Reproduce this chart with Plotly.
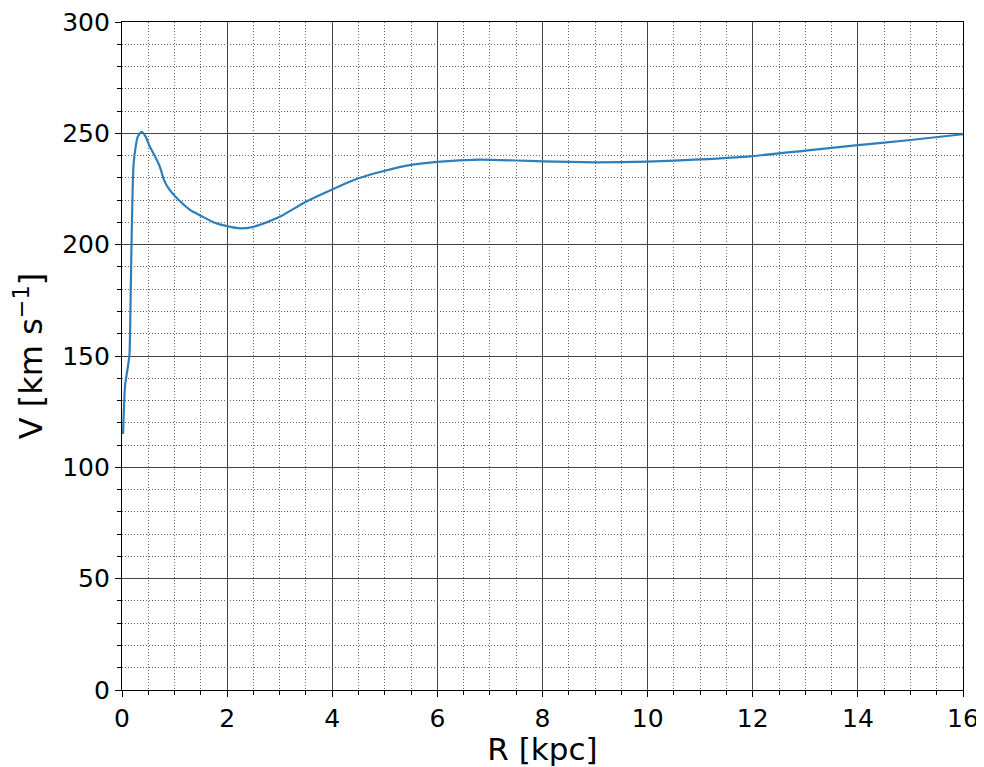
import plotly.graph_objects as go

R_kpc = [0.02, 0.06, 0.14, 0.16, 0.18, 0.2, 0.22, 0.26, 0.3, 0.37, 0.45, 0.53, 0.62, 0.72, 0.8, 0.88, 1.0, 1.15,
         1.3, 1.5, 1.75, 2.0, 2.25, 2.5, 2.75, 3.0, 3.5, 4.0, 4.5, 5.0, 5.5, 6.0, 6.8, 7.5, 8.0, 9.0,
         10.0, 11.0, 12.0, 13.0, 14.0, 15.0, 16.0]
V_kms = [115, 137, 150, 170, 199, 222, 236, 244, 248.5, 250.7, 248.5, 244, 240, 235, 229, 225.5, 222, 218.5,
         215.5, 213, 210, 208.3, 207.3, 208, 210, 212.5, 219.3, 224.8, 229.8, 233.2, 235.8, 237.2, 238.2, 237.8, 237.4, 237,
         237.3, 238.3, 239.8, 242.2, 244.7, 247, 249.6]

x_ticks = [0, 2, 4, 6, 8, 10, 12, 14, 16]
y_ticks = [0, 50, 100, 150, 200, 250, 300]

font_family = "DejaVu Sans, sans-serif"

fig = go.Figure()
fig.add_trace(go.Scatter(x=R_kpc, y=V_kms, mode="lines",
                         line=dict(color="#2e7ebc", width=2.2, shape="spline", smoothing=0.6),
                         showlegend=False, hoverinfo="skip"))

axis_common = dict(
    showline=True, linecolor="black", linewidth=1.2, mirror=True,
    showgrid=True, gridcolor="#444444", gridwidth=1,
    ticks="outside", ticklen=6, tickwidth=1.2, tickcolor="black",
    tickfont=dict(size=25, color="black", family=font_family),
    ticklabeloverflow="allow",
    zeroline=False, automargin=False,
)

minor_common = dict(showgrid=True, gridcolor="#666666", griddash="1px,2px", gridwidth=1,
                    ticks="outside", ticklen=3.5, tickcolor="black", tickwidth=1)

fig.update_xaxes(range=[0, 16], tickvals=x_ticks, ticktext=[str(v) for v in x_ticks],
                 minor=dict(dtick=0.5, tick0=0, **minor_common),
                 title=dict(text="R [kpc]", font=dict(size=31, color="black", family=font_family), standoff=4),
                 **axis_common)
fig.update_yaxes(range=[0, 300], tickvals=y_ticks, ticktext=[str(v) for v in y_ticks],
                 minor=dict(dtick=10, tick0=0, **minor_common),
                 title=dict(text="V [km s<sup>−1</sup>]", font=dict(size=32, color="black", family=font_family), standoff=10),
                 **axis_common)

# page body has an 8px margin, so the figure is sized to fit the 984x767 window
fig.update_layout(width=976, height=759, margin=dict(l=114, r=21, t=14, b=77),
                  plot_bgcolor="white", paper_bgcolor="white",
                  font=dict(family=font_family, color="black"))

fig.write_html("out.html")
